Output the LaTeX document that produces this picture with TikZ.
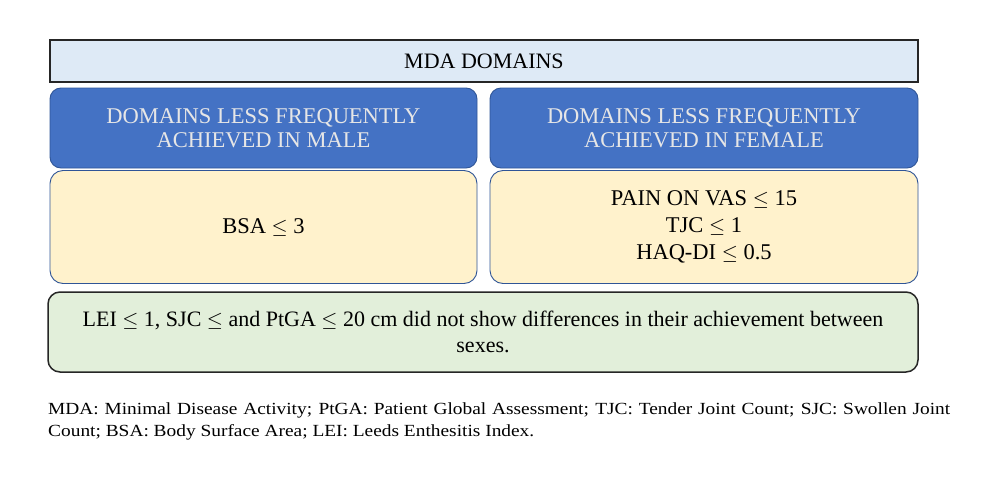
\documentclass[tikz,border=0pt]{standalone}
\usepackage{amssymb}
\usepackage{fontspec}
\setmainfont{Liberation Serif}
\newfontfamily\fnfont[FakeStretch=1.14]{Liberation Serif}
\definecolor{topfill}{HTML}{DEEAF6}
\definecolor{bluefill}{HTML}{4472C4}
\definecolor{blueedge}{HTML}{2F5597}
\definecolor{yelfill}{HTML}{FFF2CC}
\definecolor{grnfill}{HTML}{E2EFDA}
\definecolor{headtext}{HTML}{E6E6E6}
\tikzset{
  topbox/.style={draw=black!85, line width=1.8pt, fill=topfill, inner sep=0pt},
  bluebox/.style={draw=blueedge, line width=0.9pt, fill=bluefill, rounded corners=11pt, inner sep=0pt, text=headtext, align=center, font=\fontsize{22.5}{24.5}\selectfont},
  yelbox/.style={draw=blueedge, line width=0.9pt, fill=yelfill, rounded corners=13pt, inner sep=0pt, align=center, font=\fontsize{22.5}{27}\selectfont},
  grnbox/.style={draw=black!85, line width=1.5pt, fill=grnfill, rounded corners=12pt, inner sep=0pt},
}
\begin{document}
\begin{tikzpicture}[x=1pt,y=-1pt]
\useasboundingbox (0,0) rectangle (1007,490);
\fill[white] (0,0) rectangle (1007,490);
\node[topbox, minimum width=868pt, minimum height=42pt] (top) at (484,61) {\fontsize{22}{24}\selectfont MDA DOMAINS};
\node[bluebox, minimum width=427pt, minimum height=80pt] (bl) at (263.5,128) {DOMAINS LESS FREQUENTLY\\ACHIEVED IN MALE};
\node[bluebox, minimum width=428pt, minimum height=80pt] (br) at (704,128) {DOMAINS LESS FREQUENTLY\\ACHIEVED IN FEMALE};
\node[yelbox, minimum width=427pt, minimum height=113pt] (yl) at (263.5,227) {BSA $\leq$ 3};
\node[yelbox, minimum width=428pt, minimum height=113pt] (yr) at (704,227) {PAIN ON VAS $\leq$ 15\\TJC $\leq$ 1\\HAQ-DI $\leq$ 0.5};
\node[grnbox, minimum width=870pt, minimum height=80pt] (gr) at (483,332) {};
\node[align=center, font=\fontsize{22}{26}\selectfont] (grt) at (gr.center) {LEI $\leq$ 1, SJC $\leq$ and PtGA $\leq$ 20 cm did not show differences in their achievement between\\sexes.};
\node[anchor=north west, inner sep=0pt, align=left, font=\fnfont\fontsize{17}{22.5}\selectfont] (fn) at (48,402) {\hbox to 902pt{MDA: Minimal Disease Activity; PtGA: Patient Global Assessment; TJC: Tender Joint Count; SJC: Swollen Joint}\\Count; BSA: Body Surface Area; LEI: Leeds Enthesitis Index.};
\end{tikzpicture}
\end{document}
